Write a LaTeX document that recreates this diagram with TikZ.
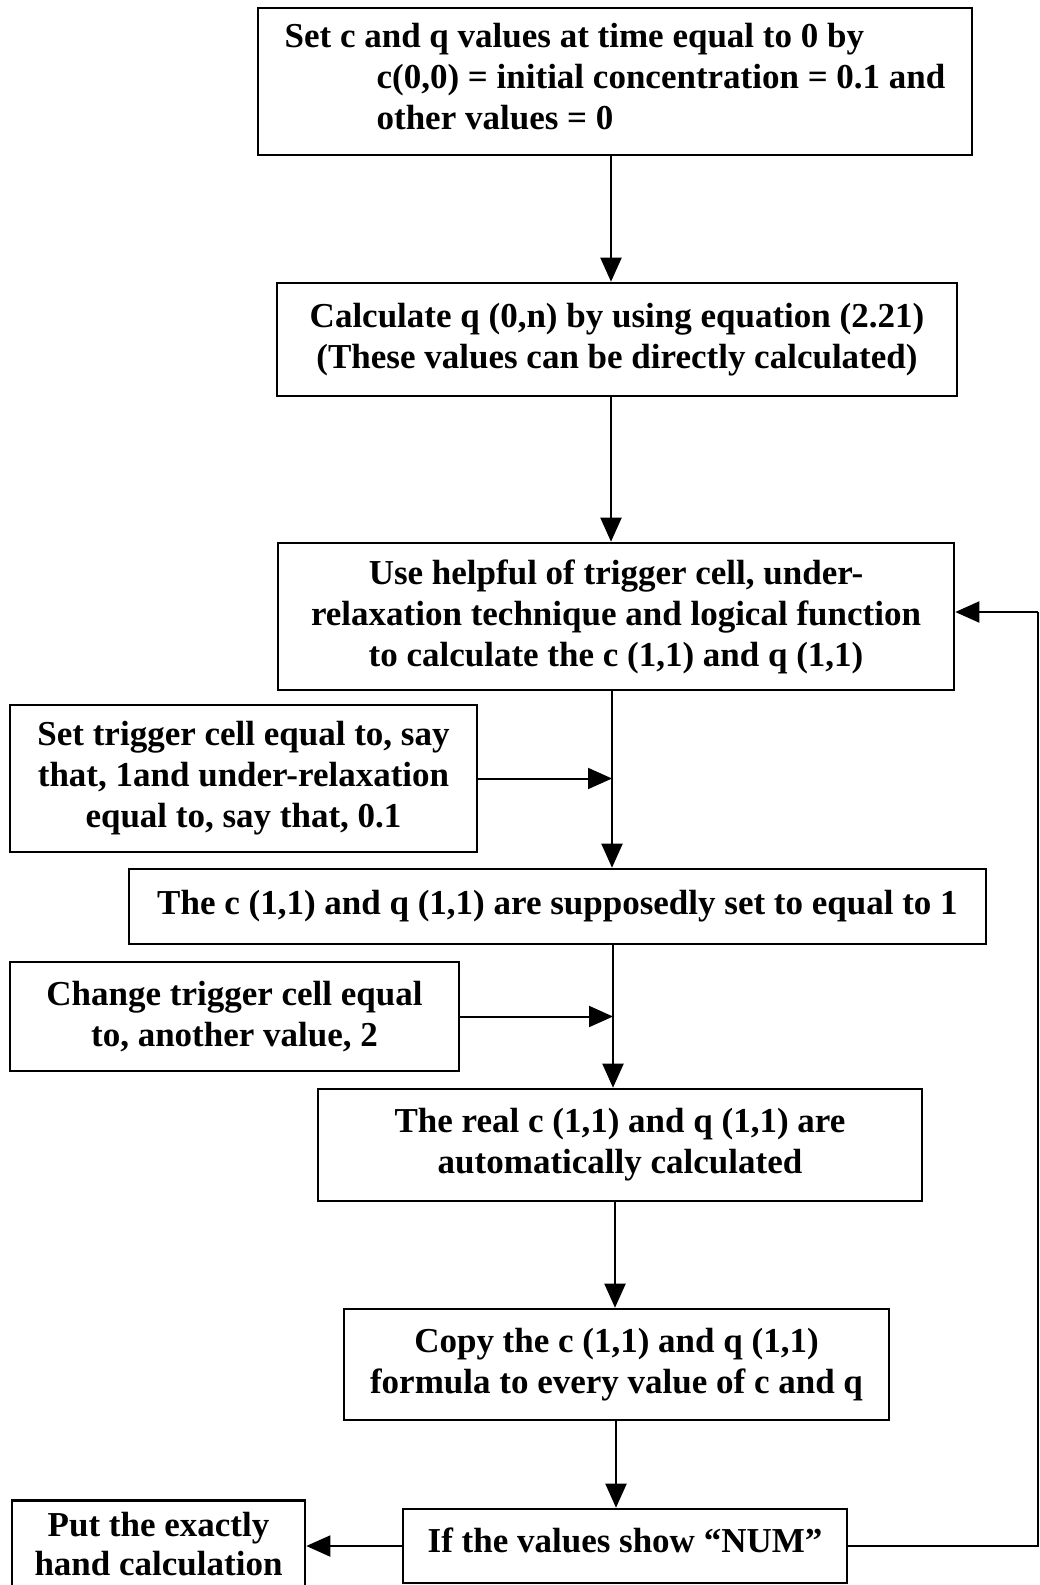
\documentclass[tikz,border=0pt]{standalone}
\usepackage{fontspec}
\setmainfont{Liberation Serif}
\usetikzlibrary{arrows.meta}
\begin{document}
\begin{tikzpicture}[x=1pt,y=-1pt,
  box/.style={draw, line width=2.6pt, rectangle, inner sep=0pt, align=center,
    font=\fontsize{35}{41}\selectfont\bfseries},
  arr/.style={line width=2pt, -{Triangle[width=21pt,length=24pt]}},
  wire/.style={line width=2pt}]
\useasboundingbox (0,0) rectangle (1039,1585);
\fill[white] (0,0) rectangle (1039,1585);
\clip (0,0) rectangle (1039,1585);

% process steps
\node[box, minimum width=714pt, minimum height=147pt, align=left] (B1) at (615,81.5)
  {Set c and q values at time equal to 0 by\\
   \hspace*{92pt}c(0,0) = initial concentration = 0.1 and\\
   \hspace*{92pt}other values = 0\rule[-10pt]{0pt}{0pt}};
\node[box, minimum width=680pt, minimum height=113pt] (B2) at (617,339.5)
  {Calculate q (0,n) by using equation (2.21)\\(These values can be directly calculated)};
\node[box, minimum width=676pt, minimum height=147pt] (B3) at (616,616.5)
  {Use helpful of trigger cell, under-\\relaxation technique and logical function\\to calculate the c (1,1) and q (1,1)};
\node[box, minimum width=467pt, minimum height=147pt] (BT) at (243.5,778.5)
  {Set trigger cell equal to, say\\that, 1and under-relaxation\\equal to, say that, 0.1};
\node[box, minimum width=857pt, minimum height=75pt] (B4) at (557.5,906.5)
  {The c (1,1) and q (1,1) are supposedly set to equal to 1\rule[-5pt]{0pt}{0pt}};
\node[box, minimum width=449pt, minimum height=109pt] (BC) at (234.5,1016.5)
  {Change trigger cell equal\\to, another value, 2};
\node[box, minimum width=604pt, minimum height=112pt] (B5) at (620,1145)
  {The real c (1,1) and q (1,1) are\\automatically calculated};
\node[box, minimum width=545pt, minimum height=111pt] (B6) at (616.5,1364.5)
  {Copy the c (1,1) and q (1,1)\\formula to every value of c and q\rule[-6pt]{0pt}{0pt}};
\node[box, minimum width=444pt, minimum height=74pt] (B7) at (625,1546)
  {If the values show \char"201CNUM\char"201D\rule[-11pt]{0pt}{0pt}};
\node[box, minimum width=293pt, minimum height=88pt, anchor=north,
      font=\fontsize{35}{39}\selectfont\bfseries] (BL) at (158.5,1499)
  {Put the exactly\\hand calculation};

% spine positions
\coordinate (s1) at (611,0);
\coordinate (s2) at (612,0);
\coordinate (s3) at (613,0);
\coordinate (s4) at (615,0);
\coordinate (s5) at (616,0);
\coordinate (loop) at (1038,612);

% connectors
\draw[arr] (B1.south -| s1) -- (B2.north -| s1);
\draw[arr] (B2.south -| s1) -- (B3.north -| s1);
\draw[arr] (B3.south -| s2) -- (B4.north -| s2);
\draw[arr] (BT.east) -- (BT.east -| s2);
\draw[arr] (B4.south -| s3) -- (B5.north -| s3);
\draw[arr] (BC.east) -- (BC.east -| s3);
\draw[arr] (B5.south -| s4) -- (B6.north -| s4);
\draw[arr] (B6.south -| s5) -- (B7.north -| s5);
\draw[arr] (B7.west) -- (B7.west -| BL.east);
\draw[wire] (B7.east) -- (B7.east -| loop) -- (loop);
\draw[arr] (loop) -- (loop -| B3.east);
\end{tikzpicture}
\end{document}
